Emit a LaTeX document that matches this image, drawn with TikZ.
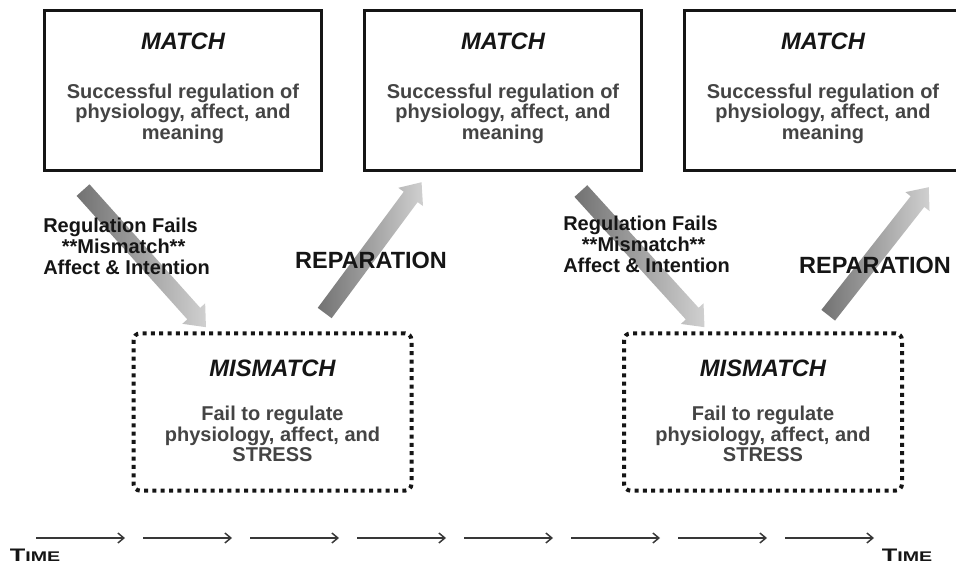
\documentclass[tikz,border=0pt]{standalone}
\usepackage{fontspec}
\setmainfont{Liberation Sans}
\newfontfamily\widefont[FakeStretch=1.4]{Liberation Sans}
\usetikzlibrary{shapes.arrows, arrows.meta, positioning, calc}
\definecolor{att-ink}{HTML}{151515}
\definecolor{att-body}{HTML}{444444}
\definecolor{att-dark}{HTML}{727272}
\definecolor{att-light}{HTML}{D0D0D0}
\definecolor{att-axis}{HTML}{383838}

\begin{document}
\begin{tikzpicture}[
			x=0.75pt, y=-0.75pt,
			matchbox/.style={
				draw=att-ink, line width=2.6pt, fill=white,
				minimum width=208pt, minimum height=120pt, inner sep=0pt
			},
			mismatchbox/.style={
				draw=att-ink, line width=3pt, rounded corners=5pt,
				dash pattern=on 3pt off 3.25pt,
				minimum width=208.5pt, minimum height=118pt, inner sep=0pt
			},
			headline/.style={
				font=\fontsize{17.8pt}{19pt}\selectfont\bfseries\itshape, text=att-ink
			},
			bodytext/.style={
				align=center, font=\fontsize{15pt}{15.4pt}\selectfont\bfseries, text=att-body
			},
			cuelabel/.style={
				align=left, inner sep=0pt, font=\fontsize{15pt}{15.8pt}\selectfont\bfseries, text=att-ink
			},
			repairlabel/.style={
				font=\fontsize{17.6pt}{18pt}\selectfont\bfseries, text=att-ink
			},
			shadearrow/.style={
				single arrow, inner sep=0pt, text height=6.3pt, text depth=6.3pt,
				minimum width=0pt, single arrow head extend=5pt, single arrow tip angle=80
			},
			timearrow/.style={
				draw=att-axis, line width=1.1pt,
				-{Straight Barb[length=4.5pt,width=7.5pt]}
			},
			timelabel/.style={
				inner sep=0pt, text=att-ink, font=\widefont\bfseries
			}
			]
			
			\clip (0,0) rectangle (956,566);
			
			\node[matchbox] (m1) at (183,90.5) {};
			\node[matchbox] (m2) at (503,90.5) {};
			\node[matchbox] (m3) at (823,90.5) {};
			
			\node[mismatchbox] (mm1) at (272.5,412) {};
			\node[mismatchbox] (mm2) at (763,412) {};
			
			\foreach \b in {m1,m2,m3}{
				\node[headline] at ($(\b.north)+(0,33)$) {MATCH};
				\node[bodytext] at ($(\b.center)+(0,23)$) {Successful regulation of\\physiology, affect, and\\meaning};
			}
			
			\foreach \b in {mm1,mm2}{
				\node[headline] at ($(\b.center)+(0,-44)$) {MISMATCH};
				\node[bodytext] at ($(\b.center)+(0,22)$) {Fail to regulate\\physiology, affect, and\\STRESS};
			}
			
			\coordinate (d1a) at ($(m1.south west)+(37,14)$);
			\coordinate (d1b) at ($(mm1.north west)+(71,-8)$);
			\coordinate (u1a) at ($(mm1.north east)+(-92,-14)$);
			\coordinate (u1b) at ($(m2.south west)+(56,14)$);
			\coordinate (d2a) at ($(m2.south east)+(-66,15)$);
			\coordinate (d2b) at ($(mm2.north west)+(79,-8)$);
			\coordinate (u2a) at ($(mm2.north east)+(-79,-12)$);
			\coordinate (u2b) at ($(m3.south west)+(243,19)$);
			
			\foreach \s/\e in {d1a/d1b, u1a/u1b, d2a/d2b, u2a/u2b}{
				\path let \p1=($(\e)-(\s)$), \n1={veclen(\x1,\y1)}, \n2={atan2(\y1,\x1)} in
				node[shadearrow, minimum height=\n1, rotate=\n2, left color=att-dark, right color=att-light]
				at ($(\s)!0.5!(\e)$) {};
			}
			
			\node[cuelabel, anchor=west] (f1) at (43,246) {Regulation Fails\\\mbox{\hspace{14pt}**Mismatch**}\\Affect \& Intention};
			\node[cuelabel, anchor=west] (f2) at (563,244) {Regulation Fails\\\mbox{\hspace{14pt}**Mismatch**}\\Affect \& Intention};
			
			\node[repairlabel] (r1) at (371,260) {REPARATION};
			\node[repairlabel] (r2) at (875,265) {REPARATION};
			
			\foreach \i in {0,...,7}{
				\coordinate (t\i a) at ({36+107*\i},538);
				\coordinate (t\i b) at ({125+107*\i},538);
				\draw[timearrow] (t\i a) -- (t\i b);
			}
			
			\node[timelabel] (tl) at (35,555) {\fontsize{13.6pt}{14pt}\selectfont T\fontsize{10.5pt}{11pt}\selectfont IME};
			\node[timelabel] (tr) at (907,555) {\fontsize{13.6pt}{14pt}\selectfont T\fontsize{10.5pt}{11pt}\selectfont IME};
			
		\end{tikzpicture}
\end{document}
